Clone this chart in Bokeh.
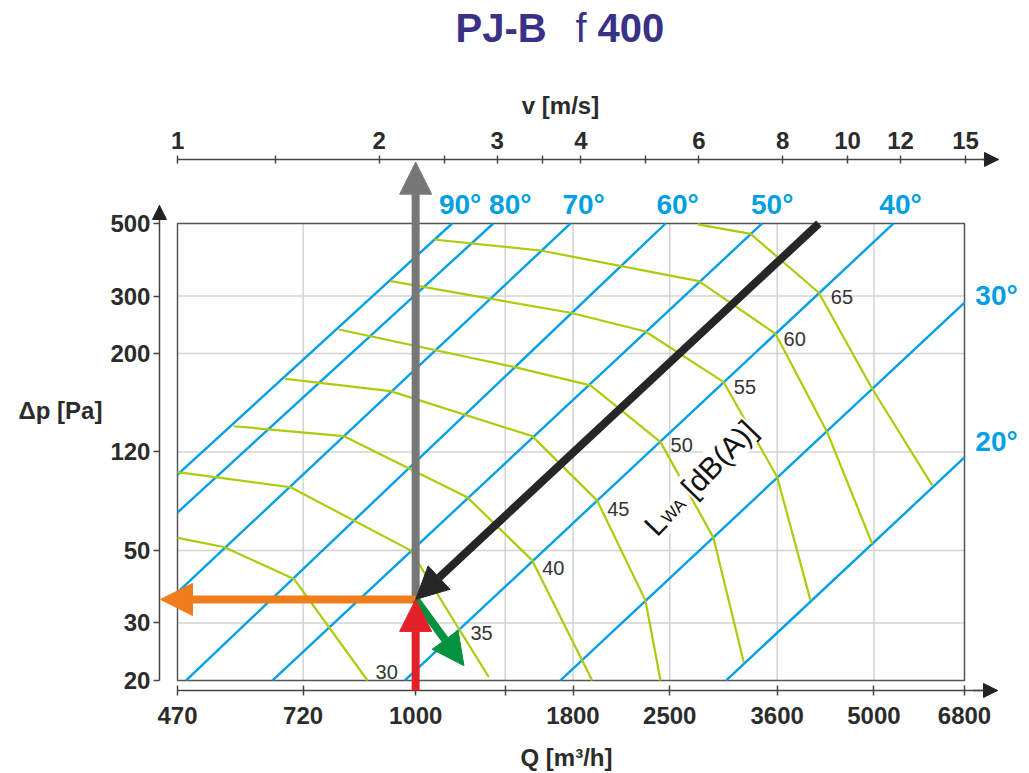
import math
from bokeh.plotting import figure
from bokeh.models import (Range1d, LogScale, LogAxis, FixedTicker, BasicTickFormatter,
                          Arrow, NormalHead, Label, ColumnDataSource)
from bokeh.embed import file_html
from bokeh.resources import INLINE
from bokeh.core.properties import value

# ---------------- data ----------------
TITLE_PARTS = ["PJ-B", "f", "400"]

Q_TICKS = [470, 720, 1055, 1800, 2500, 3600, 5000, 6800]
Q_TICK_LABELS = ["470", "720", "1000", "1800", "2500", "3600", "5000", "6800"]
Q_MINOR = [1430]
DP_TICKS = [20, 30, 50, 100, 200, 300, 500]
DP_TICK_LABELS = ["20", "30", "50", "120", "200", "300", "500"]
V_TICKS = [1, 2, 3, 4, 6, 8, 10, 12, 15]
V_MINOR = [1.4, 2.5, 3.5, 5]

# damper blade angle lines (Q [m3/h], dp [Pa])
ANGLES = ["90°", "80°", "70°", "60°", "50°", "40°", "30°", "20°"]
ANGLE_Q = [[470, 1194], [470, 1373], [470, 1785], [484, 2465],
           [649, 3421], [1017, 5344], [1725, 6800], [3028, 6800]]
ANGLE_DP = [[85.3, 500], [65.3, 500], [37.2, 500], [20, 500],
            [20, 500], [20, 500], [20, 286.6], [20, 96.2]]

# sound power level curves LWA [dB(A)]
LWA_LEVELS = ["65", "60", "55", "50", "45", "40", "35", "30"]
LWA_Q = [
    [2750, 3289, 4147, 4971, 6094],
    [1122, 1612, 2759, 3580, 4266, 4971],
    [969, 1785, 2302, 3003, 3601, 4032],
    [813, 1456, 1910, 2423, 2900, 3215],
    [678, 969, 1567, 1954, 2302, 2423],
    [569, 827, 1257, 1567, 1921],
    [470, 690, 1037, 1224, 1352],
    [470, 550, 698, 896],
]
LWA_DP = [
    [497, 465, 306.9, 156.1, 79.0],
    [446.7, 413.4, 333.0, 229.9, 115.0, 52.4],
    [333.0, 266.6, 233.7, 163.5, 83.7, 35.1],
    [237.0, 183.0, 159.8, 107.2, 54.6, 22.7],
    [167.4, 153.5, 111.8, 71.0, 35.1, 20],
    [119.9, 111.8, 72.7, 46.6, 20],
    [86.8, 78.0, 50.0, 28.6, 20.5],
    [54.6, 51.2, 40.9, 20],
]
LWA_LABEL_IDX = [2, 3, 3, 3, 3, 3, 3, 3]

# operating point and reading arrows
OP_Q, OP_DP = 1055, 35.4
V_READ_DP = 770          # gray arrow up to the velocity axis
DP_READ_Q = 443.6        # orange arrow to the pressure axis
LWA_READ = (1243, 22.2)  # green arrow towards 35 dB(A)
BLACK_START = (4147, 500)
LWA_TEXT_POS = (2350, 56.3)

# ---------------- styles ----------------
FONT = "Liberation Sans"
DARK = "#2b2b2b"
AX = "#444444"
BLUE = "#009fe3"
GREEN = "#afca0b"
W, H = 1029, 773

# ranges cover the whole canvas; axes are pinned with fixed_location
X0, X1 = 257.7, 8479
Y0, Y1 = 10.387, 2405.0
V0, V1 = 0.5441, 18.69
AX_BOTTOM_DP = 18.64   # level of the Q axis
AX_TOP_DP = 784.8      # level of the v axis
AX_LEFT_Q = 442.1      # position of the dp axis

p = figure(width=W, height=H, x_axis_type="log", y_axis_type="log",
           x_range=Range1d(X0, X1), y_range=Range1d(Y0, Y1),
           output_backend="svg", toolbar_location=None,
           min_border_left=0, min_border_right=0, min_border_top=0, min_border_bottom=0)
p.outline_line_color = None
p.xgrid.visible = False
p.ygrid.visible = False
p.background_fill_color = "white"
p.border_fill_color = "white"
p.extra_x_ranges = {"v": Range1d(V0, V1)}
p.extra_x_scales = {"v": LogScale()}


def style_axis(ax):
    ax.axis_line_color = AX
    ax.axis_line_width = 1.5
    ax.major_tick_line_color = AX
    ax.major_tick_line_width = 1.5
    ax.minor_tick_line_color = AX
    ax.minor_tick_line_width = 1.5
    ax.major_label_text_font = FONT
    ax.major_label_text_font_style = "bold"
    ax.major_label_text_font_size = "24px"
    ax.major_label_text_color = DARK


xa = p.xaxis[0]
style_axis(xa)
xa.fixed_location = AX_BOTTOM_DP
xa.ticker = FixedTicker(ticks=Q_TICKS, minor_ticks=Q_MINOR)
xa.formatter = BasicTickFormatter()
xa.major_label_overrides = dict(zip(Q_TICKS, Q_TICK_LABELS))
xa.bounds = (Q_TICKS[0], 7606)
xa.major_tick_in = 5
xa.major_tick_out = 5
xa.minor_tick_in = 5
xa.minor_tick_out = 5
xa.major_label_standoff = 12

ya = p.yaxis[0]
style_axis(ya)
ya.fixed_location = AX_LEFT_Q
ya.ticker = FixedTicker(ticks=DP_TICKS, minor_ticks=[])
ya.formatter = BasicTickFormatter()
ya.major_label_overrides = dict(zip(DP_TICKS, DP_TICK_LABELS))
ya.bounds = (DP_TICKS[0], 567.6)
ya.major_tick_in = 0
ya.major_tick_out = 6
ya.major_label_standoff = 3

va = LogAxis(x_range_name="v", ticker=FixedTicker(ticks=V_TICKS, minor_ticks=V_MINOR),
             formatter=BasicTickFormatter())
style_axis(va)
va.fixed_location = AX_TOP_DP
va.bounds = (V_TICKS[0], 16.8)
va.major_tick_in = 4
va.major_tick_out = 4
va.minor_tick_in = 4
va.minor_tick_out = 4
va.major_label_standoff = 6
p.add_layout(va, "above")

# axis end arrows
for kw in [dict(x_start=15.9, y_start=AX_TOP_DP, x_end=16.8, y_end=AX_TOP_DP, x_range_name="v"),
           dict(x_start=7000, y_start=AX_BOTTOM_DP, x_end=7606, y_end=AX_BOTTOM_DP),
           dict(x_start=AX_LEFT_Q, y_start=520, x_end=AX_LEFT_Q, y_end=567.6)]:
    p.add_layout(Arrow(line_color=AX, line_width=1.5,
                       end=NormalHead(size=14, fill_color="#222222", line_color="#222222"), **kw))

# grid (inside the diagram box only)
gx = Q_TICKS[1:-1] + Q_MINOR
gy = DP_TICKS[1:-1]
p.segment(x0=gx, y0=[DP_TICKS[0]] * len(gx), x1=gx, y1=[DP_TICKS[-1]] * len(gx),
          line_color="#d3d3d3", line_width=1.5)
p.segment(x0=[Q_TICKS[0]] * len(gy), y0=gy, x1=[Q_TICKS[-1]] * len(gy), y1=gy,
          line_color="#d3d3d3", line_width=1.5)
p.quad(left=Q_TICKS[0], right=Q_TICKS[-1], bottom=DP_TICKS[0], top=DP_TICKS[-1],
       fill_color=None, line_color="#555555", line_width=1.5)

# lines
p.multi_line(xs=ANGLE_Q, ys=ANGLE_DP, line_color=BLUE, line_width=2.4)
p.multi_line(xs=LWA_Q, ys=LWA_DP, line_color=GREEN, line_width=2.2)

# angle labels
top_dx = [8, 17, 13, 12, 10, 7]
src_top = ColumnDataSource(dict(x=[q[1] for q in ANGLE_Q[:6]], y=[d[1] for d in ANGLE_DP[:6]],
                                t=ANGLES[:6], dx=top_dx))
p.text(x="x", y="y", text="t", x_offset="dx", y_offset=-19, source=src_top,
       text_font=value(FONT), text_font_style="bold", text_font_size="28px",
       text_color=BLUE, text_align="center", text_baseline="middle")
src_right = ColumnDataSource(dict(x=[q[1] for q in ANGLE_Q[6:]], y=[d[1] for d in ANGLE_DP[6:]],
                                  t=ANGLES[6:], dy=[-7, -16]))
p.text(x="x", y="y", text="t", x_offset=32, y_offset="dy", source=src_right,
       text_font=value(FONT), text_font_style="bold", text_font_size="28px",
       text_color=BLUE, text_align="center", text_baseline="middle")

# LWA level labels
lab_dx = [12, 8, 10, 10, 10, 10, 11, 8]
lab_dy = [4, 5, 5, 3, 8, 8, 3, -8]
src_lab = ColumnDataSource(dict(
    x=[LWA_Q[i][k] for i, k in enumerate(LWA_LABEL_IDX)],
    y=[LWA_DP[i][k] for i, k in enumerate(LWA_LABEL_IDX)],
    t=LWA_LEVELS, dx=lab_dx, dy=lab_dy))
p.text(x="x", y="y", text="t", x_offset="dx", y_offset="dy", source=src_lab,
       text_font=value(FONT), text_font_size="20px", text_color="#333333",
       text_align="left", text_baseline="middle")

# rotated "LWA [dB(A)]" label
th = math.radians(46)
c, s = math.cos(th), math.sin(th)
parts = [("L", 30, 0.0, 0.0), ("WA", 17, 17.5, 4.0), ("[dB(A)]", 30, 53.0, 0.0)]
for txt, fs, d, sub in parts:
    p.add_layout(Label(x=LWA_TEXT_POS[0], y=LWA_TEXT_POS[1], text=txt, angle=th,
                       x_offset=d * c + sub * s - 2, y_offset=d * s - sub * c + 3,
                       text_font=FONT, text_font_size=f"{fs}px", text_color="#111111",
                       text_align="left", text_baseline="alphabetic",
                       background_fill_color="white"))

# reading arrows
def arrow(x0, y0, x1, y1, color):
    p.add_layout(Arrow(x_start=x0, y_start=y0, x_end=x1, y_end=y1,
                       line_color=color, line_width=8,
                       end=NormalHead(size=32, fill_color=color, line_color=color, line_width=1)))

arrow(OP_Q, OP_DP, OP_Q, V_READ_DP, "#777777")
arrow(OP_Q, OP_DP, DP_READ_Q, OP_DP, "#ef7d1b")
arrow(OP_Q, OP_DP, LWA_READ[0], LWA_READ[1], "#00923f")
arrow(BLACK_START[0], BLACK_START[1], OP_Q, OP_DP, "#262626")
arrow(OP_Q, AX_BOTTOM_DP, OP_Q, OP_DP, "#e3202a")

# title and axis titles (screen position on the canvas, y measured from the bottom)
def slabel(txt, x, y_from_top, size, bold=True, color=DARK, align="left"):
    p.add_layout(Label(x=x, y=H - y_from_top, x_units="screen", y_units="screen", text=txt,
                       text_font=FONT, text_font_size=size,
                       text_font_style="bold" if bold else "normal",
                       text_color=color, text_align=align, text_baseline="middle"))

TITLE_COLOR = "#393185"
slabel(TITLE_PARTS[0], 455, 27, "40px", True, TITLE_COLOR)
slabel(TITLE_PARTS[1], 575, 27, "40px", False, TITLE_COLOR)
slabel(TITLE_PARTS[2], 597, 27, "40px", True, TITLE_COLOR)
slabel("v [m/s]", 560, 105, "24px", align="center")
slabel("Δp [Pa]", 18, 410, "24px")
slabel("Q [m³/h]", 566, 757, "24px", align="center")

open("out.html", "w").write(file_html(p, INLINE))
